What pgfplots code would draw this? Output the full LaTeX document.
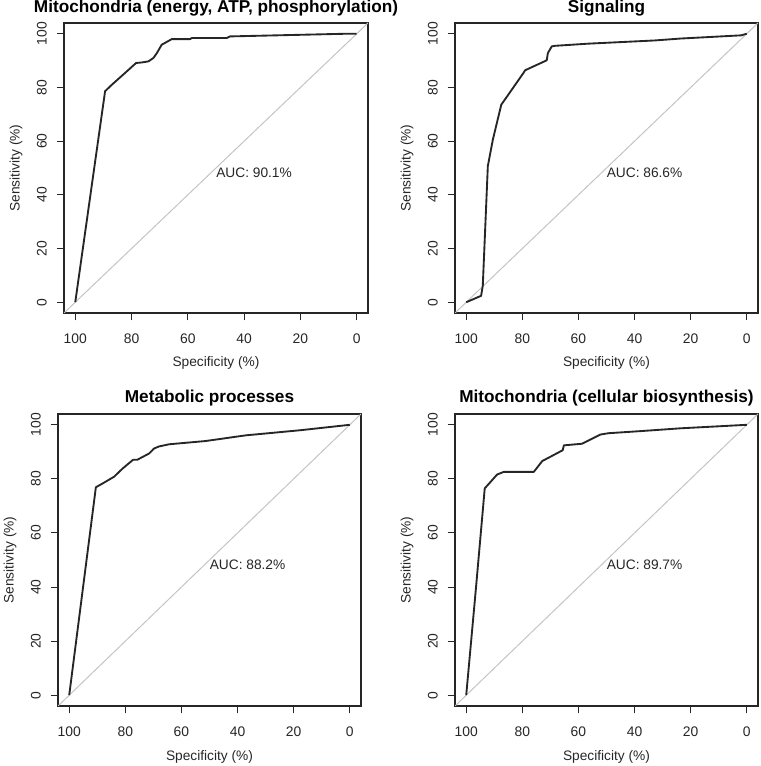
\documentclass[border=0pt]{standalone}
\usepackage{fontspec}
\setmainfont{Liberation Sans}
\usepackage{pgfplots}
\pgfplotsset{compat=1.18}

\definecolor{ink}{HTML}{262626}
\definecolor{diag}{HTML}{C4C4C4}

\pgfplotsset{
  rocax/.style={
    scale only axis, width=228pt, height=217.5pt,
    xmin=-4, xmax=104, ymin=-4, ymax=104, x dir=reverse,
    xtick={0,20,...,100}, ytick={0,20,...,100},
    tick pos=left, tick align=outside, major tick length=5.6pt,
    axis line style={ink, line width=0.8pt},
    every tick/.style={ink, line width=0.8pt},
    /pgf/number format/assume math mode=true,
    tick label style={font=\fontsize{10.4}{12}\selectfont, text=ink},
    xticklabel shift=6.5pt, yticklabel shift=3.8pt,
    yticklabel style={rotate=90, anchor=south},
    xlabel={Specificity (\%)}, ylabel={Sensitivity (\%)},
    label style={font=\fontsize{10.3}{12}\selectfont, text=ink},
    xlabel style={at={(axis description cs:0.5,-0.171)}, anchor=center},
    ylabel style={at={(axis description cs:-0.158,0.5)}, anchor=center},
    every axis title/.style={at={(axis description cs:0.5,1.05)}, anchor=center,
      font=\fontsize{12.9}{14}\selectfont\bfseries, text=black},
    clip=true,
  },
  lowrow/.style={
    width=227.25pt, height=219pt,
    every axis title/.append style={at={(axis description cs:0.5,1.054)}},
    xlabel style={at={(axis description cs:0.5,-0.175)}},
  },
  curve/.style={ink, line width=1.4pt, line join=round},
  diagline/.style={diag, line width=0.75pt},
}

\begin{document}
\begin{tikzpicture}
\useasboundingbox (0,0) rectangle (570pt,574.5pt);

% top left
\begin{axis}[rocax, at={(48pt,339.75pt)}, anchor=south west,
  title={Mitochondria (energy, ATP, phosphorylation)}]
\addplot[diagline] coordinates {(104,-4) (-4,104)};
\addplot[curve] coordinates {
  (100,0) (89.4,78.6) (87.0,81.0) (82.3,85.4) (78.4,89.1) (76.4,89.3)
  (74.0,89.7) (72.2,91.0) (71.0,92.8) (69.3,95.9) (65.7,98.0) (59.2,98.0)
  (58.6,98.4) (46.2,98.4) (45.0,99.0) (20.1,99.6) (3.6,100) (0,100)};
\node[anchor=north west, inner sep=0pt, font=\fontsize{10.3}{12}\selectfont, text=ink]
  at (axis cs:50,50) {AUC: 90.1\%};
\end{axis}

% top right
\begin{axis}[rocax, width=227.25pt, at={(341.25pt,339.75pt)}, anchor=south west,
  title={Signaling}]
\addplot[diagline] coordinates {(104,-4) (-4,104)};
\addplot[curve] coordinates {
  (100,0) (94.7,2.4) (94.1,6.1) (93.5,20.9) (92.3,50.7) (90.5,60.6)
  (87.5,73.6) (85.8,76.1) (79.6,85.4) (79.0,86.4) (71.3,90.1) (70.9,92.8)
  (69.5,95.3) (68.3,95.5) (56.5,96.3) (32.7,97.5) (23.7,98.2) (2,99.4) (0,100)};
\node[anchor=north west, inner sep=0pt, font=\fontsize{10.3}{12}\selectfont, text=ink]
  at (axis cs:50,50) {AUC: 86.6\%};
\end{axis}

% bottom left
\begin{axis}[rocax, lowrow, at={(43.5pt,45pt)}, anchor=south west,
  title={Metabolic processes}]
\addplot[diagline] coordinates {(104,-4) (-4,104)};
\addplot[curve] coordinates {
  (100,0) (90.5,76.9) (88.1,78.3) (84.0,80.8) (81.0,83.8) (77.2,87.1)
  (75.7,87.1) (71.5,89.4) (69.8,91.2) (68.0,92.0) (64.4,92.8) (51.4,94.0)
  (37.1,96.1) (17.6,98.0) (0,100)};
\node[anchor=north west, inner sep=0pt, font=\fontsize{10.3}{12}\selectfont, text=ink]
  at (axis cs:50,50) {AUC: 88.2\%};
\end{axis}

% bottom right
\begin{axis}[rocax, lowrow, at={(341.25pt,45pt)}, anchor=south west,
  title={Mitochondria (cellular biosynthesis)}]
\addplot[diagline] coordinates {(104,-4) (-4,104)};
\addplot[curve] coordinates {
  (100,0) (96.5,40) (93.4,76.5) (92.0,78.1) (89.0,81.6) (86.6,82.6)
  (75.9,82.6) (72.9,86.6) (65.6,90.6) (65.2,92.4) (58.7,93.0) (52.2,96.4)
  (49.2,96.9) (37.4,97.7) (23.7,98.7) (0,100)};
\node[anchor=north west, inner sep=0pt, font=\fontsize{10.3}{12}\selectfont, text=ink]
  at (axis cs:50,50) {AUC: 89.7\%};
\end{axis}
\end{tikzpicture}
\end{document}
